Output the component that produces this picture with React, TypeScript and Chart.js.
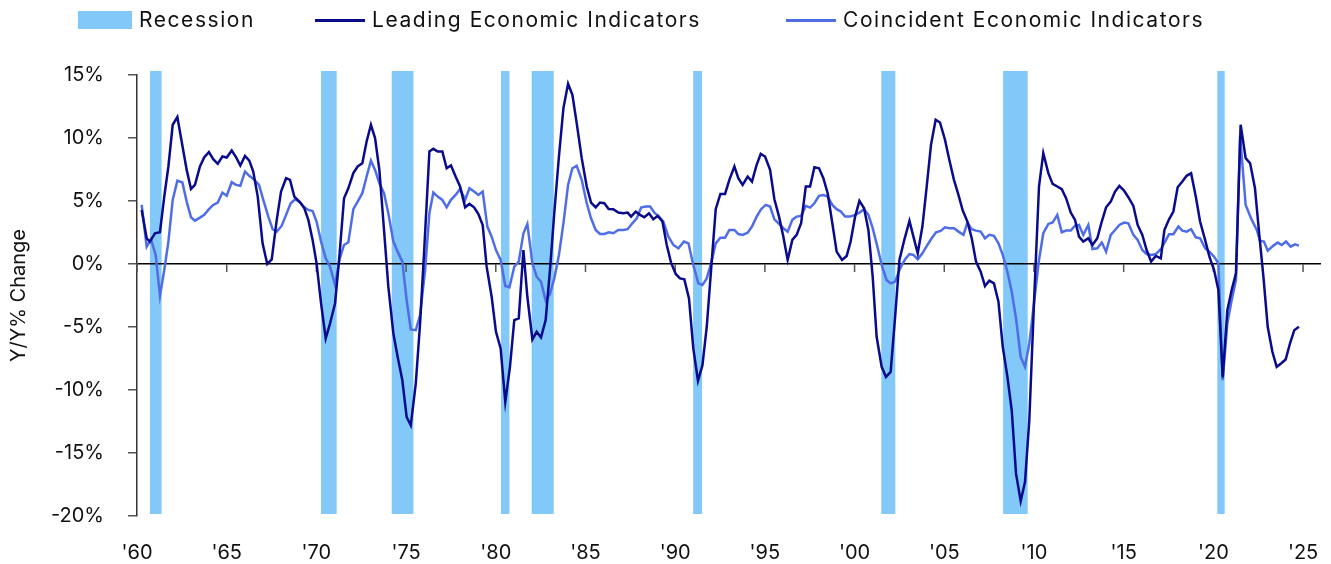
import React, { useEffect, useRef } from 'react';
import { Chart, registerables } from 'chart.js';

Chart.register(...registerables);

const leadingYears = [
  1960.26, 1960.54, 1960.72, 1961.0, 1961.28, 1961.52, 1961.75, 1961.99, 1962.25, 1962.49, 1962.77, 1963.01,
  1963.23, 1963.51, 1963.75, 1964.01, 1964.25, 1964.5, 1964.76, 1965.0, 1965.28, 1965.52, 1965.76, 1966.02,
  1966.26, 1966.48, 1966.73, 1967.0, 1967.26, 1967.51, 1967.79, 1968.03, 1968.31, 1968.53, 1968.77, 1969.09,
  1969.33, 1969.55, 1969.79, 1970.01, 1970.26, 1970.52, 1970.76, 1971.04, 1971.28, 1971.54, 1971.78, 1972.06,
  1972.3, 1972.56, 1972.8, 1973.04, 1973.27, 1973.51, 1973.77, 1974.01, 1974.29, 1974.53, 1974.79, 1975.03,
  1975.26, 1975.54, 1975.78, 1976.02, 1976.3, 1976.52, 1976.76, 1977.02, 1977.26, 1977.5, 1977.76, 1978.01,
  1978.29, 1978.53, 1978.79, 1979.03, 1979.27, 1979.49, 1979.77, 1980.01, 1980.27, 1980.53, 1980.79, 1981.03,
  1981.28, 1981.54, 1981.76, 1982.04, 1982.28, 1982.52, 1982.78, 1983.02, 1983.26, 1983.52, 1983.77, 1984.03,
  1984.27, 1984.51, 1984.79, 1985.07, 1985.31, 1985.57, 1985.81, 1986.05, 1986.29, 1986.55, 1986.83, 1987.11,
  1987.35, 1987.54, 1987.8, 1988.04, 1988.28, 1988.54, 1988.78, 1989.03, 1989.29, 1989.53, 1989.77, 1990.03,
  1990.27, 1990.51, 1990.77, 1991.01, 1991.27, 1991.52, 1991.76, 1992.0, 1992.26, 1992.52, 1992.78, 1993.02,
  1993.3, 1993.52, 1993.76, 1994.04, 1994.28, 1994.54, 1994.77, 1995.01, 1995.29, 1995.53, 1995.79, 1996.03,
  1996.27, 1996.53, 1996.77, 1997.02, 1997.28, 1997.52, 1997.76, 1998.02, 1998.26, 1998.5, 1998.76, 1999.0,
  1999.3, 1999.56, 1999.78, 2000.03, 2000.27, 2000.53, 2000.77, 2001.01, 2001.23, 2001.51, 2001.75, 2002.01,
  2002.26, 2002.5, 2002.78, 2003.06, 2003.28, 2003.52, 2003.78, 2004.02, 2004.26, 2004.52, 2004.76, 2005.04,
  2005.28, 2005.54, 2005.79, 2006.03, 2006.29, 2006.53, 2006.77, 2007.03, 2007.27, 2007.51, 2007.77, 2008.02,
  2008.26, 2008.52, 2008.76, 2009.0, 2009.26, 2009.5, 2009.74, 2010.0, 2010.28, 2010.52, 2010.8, 2011.04,
  2011.3, 2011.55, 2011.79, 2012.05, 2012.29, 2012.51, 2012.75, 2013.03, 2013.26, 2013.53, 2013.78, 2014.02,
  2014.28, 2014.52, 2014.76, 2015.02, 2015.26, 2015.54, 2015.78, 2016.04, 2016.28, 2016.53, 2016.79, 2017.07,
  2017.27, 2017.53, 2017.77, 2018.01, 2018.27, 2018.51, 2018.76, 2019.02, 2019.26, 2019.54, 2019.78, 2020.04,
  2020.28, 2020.52, 2020.78, 2021.02, 2021.26, 2021.52, 2021.8, 2022.05, 2022.32, 2022.57, 2022.79, 2023.03,
  2023.29, 2023.53, 2023.77, 2024.03, 2024.27, 2024.51, 2024.77,
];

const leadingValues = [
  4.29, 2.04, 1.78, 2.44, 2.52, 5.35, 7.74, 11.05, 11.66, 9.72, 7.47, 5.96,
  6.28, 7.74, 8.48, 8.88, 8.32, 7.95, 8.53, 8.45, 9.01, 8.48, 7.82, 8.58,
  8.21, 7.34, 5.35, 1.64, 0.0, 0.37, 3.5, 5.75, 6.81, 6.68, 5.35, 4.9,
  4.42, 3.5, 1.91, 0.05, -3.13, -5.91, -4.72, -3.13, 0.58, 5.22, 6.01, 7.21,
  7.74, 8.0, 9.72, 11.05, 9.99, 7.47, 2.7, -1.8, -5.51, -7.37, -9.22, -12.14,
  -12.8, -9.49, -4.72, 1.38, 8.93, 9.14, 8.93, 8.93, 7.6, 7.82, 6.94, 6.15,
  4.5, 4.77, 4.5, 3.97, 3.1, -0.21, -2.6, -5.38, -6.7, -10.94, -8.16, -4.45,
  -4.32, 1.11, -2.6, -5.99, -5.38, -5.83, -4.45, -0.48, 4.03, 8.53, 12.37, 14.31,
  13.43, 11.18, 8.4, 6.15, 4.88, 4.5, 4.88, 4.82, 4.37, 4.35, 4.08, 4.03,
  4.08, 3.76, 4.16, 3.9, 3.71, 4.03, 3.55, 3.82, 3.37, 1.51, 0.11, -0.79,
  -1.14, -1.22, -2.73, -6.7, -9.27, -8.03, -4.98, -0.48, 4.35, 5.56, 5.56, 6.68,
  7.74, 6.81, 6.28, 6.94, 6.54, 7.87, 8.74, 8.53, 7.47, 5.14, 3.76, 2.17,
  0.32, 1.91, 2.31, 3.23, 6.15, 6.15, 7.68, 7.6, 6.81, 5.62, 3.23, 0.98,
  0.32, 0.64, 1.78, 3.76, 5.01, 4.42, 2.7, -1.01, -5.78, -8.16, -8.96, -8.56,
  -4.19, 0.32, 1.96, 3.42, 2.17, 0.85, 2.97, 6.15, 9.46, 11.45, 11.23, 9.86,
  8.27, 6.68, 5.48, 4.24, 3.37, 2.04, 0.19, -0.61, -1.75, -1.32, -1.54, -2.99,
  -6.57, -8.96, -11.61, -16.64, -18.81, -17.3, -12.4, -3.13, 6.15, 8.8, 7.21, 6.36,
  6.15, 5.94, 5.22, 4.08, 3.5, 2.17, 1.78, 2.04, 1.51, 2.04, 3.37, 4.5,
  4.95, 5.75, 6.2, 5.83, 5.3, 4.61, 3.1, 2.31, 1.11, 0.19, 0.64, 0.45,
  2.7, 3.55, 4.16, 6.09, 6.54, 7.0, 7.21, 5.35, 3.37, 1.91, 0.58, -0.48,
  -2.07, -9.0, -3.66, -2.07, -0.74, 11.05, 8.4, 8.0, 6.01, 2.17, -1.01, -4.98,
  -6.97, -8.16, -7.9, -7.58, -6.31, -5.25, -4.98,
];

const coincidentYears = [
  1960.26, 1960.54, 1960.78, 1961.04, 1961.28, 1961.52, 1961.75, 1961.99, 1962.25, 1962.53, 1962.77, 1963.01,
  1963.23, 1963.51, 1963.75, 1964.01, 1964.25, 1964.5, 1964.76, 1965.0, 1965.28, 1965.52, 1965.76, 1966.02,
  1966.26, 1966.54, 1966.8, 1967.04, 1967.32, 1967.56, 1967.79, 1968.06, 1968.31, 1968.57, 1968.81, 1969.09,
  1969.33, 1969.55, 1969.79, 1970.01, 1970.26, 1970.52, 1970.76, 1971.04, 1971.28, 1971.54, 1971.78, 1972.06,
  1972.3, 1972.56, 1972.8, 1973.04, 1973.27, 1973.51, 1973.77, 1974.01, 1974.29, 1974.53, 1974.79, 1975.03,
  1975.26, 1975.54, 1975.78, 1976.06, 1976.3, 1976.52, 1976.76, 1977.02, 1977.26, 1977.5, 1977.76, 1978.01,
  1978.29, 1978.53, 1978.79, 1979.03, 1979.27, 1979.53, 1979.77, 1980.01, 1980.27, 1980.53, 1980.76, 1981.03,
  1981.28, 1981.54, 1981.76, 1982.04, 1982.28, 1982.52, 1982.78, 1983.02, 1983.26, 1983.52, 1983.77, 1984.03,
  1984.27, 1984.51, 1984.79, 1985.07, 1985.31, 1985.57, 1985.81, 1986.05, 1986.3, 1986.55, 1986.83, 1987.11,
  1987.35, 1987.61, 1987.86, 1988.1, 1988.36, 1988.6, 1988.84, 1989.1, 1989.34, 1989.62, 1989.9, 1990.18,
  1990.49, 1990.74, 1991.01, 1991.29, 1991.52, 1991.76, 1992.0, 1992.26, 1992.52, 1992.78, 1993.02, 1993.3,
  1993.52, 1993.76, 1994.04, 1994.28, 1994.54, 1994.79, 1995.05, 1995.29, 1995.53, 1995.79, 1996.03, 1996.27,
  1996.53, 1996.77, 1997.02, 1997.28, 1997.52, 1997.76, 1998.02, 1998.26, 1998.5, 1998.76, 1999.0, 1999.24,
  1999.47, 1999.75, 2000.03, 2000.27, 2000.53, 2000.77, 2001.01, 2001.27, 2001.51, 2001.78, 2002.01, 2002.26,
  2002.54, 2002.81, 2003.06, 2003.28, 2003.52, 2003.78, 2004.06, 2004.3, 2004.54, 2004.8, 2005.04, 2005.28,
  2005.54, 2005.79, 2006.07, 2006.29, 2006.53, 2006.77, 2007.03, 2007.27, 2007.51, 2007.77, 2008.02, 2008.26,
  2008.52, 2008.76, 2009.0, 2009.26, 2009.5, 2009.74, 2010.0, 2010.28, 2010.52, 2010.8, 2011.04, 2011.3,
  2011.55, 2011.79, 2012.05, 2012.29, 2012.51, 2012.75, 2013.03, 2013.26, 2013.53, 2013.78, 2014.02, 2014.28,
  2014.52, 2014.76, 2015.02, 2015.26, 2015.54, 2015.78, 2016.04, 2016.28, 2016.53, 2016.79, 2017.07, 2017.31,
  2017.53, 2017.77, 2018.05, 2018.27, 2018.51, 2018.76, 2019.02, 2019.26, 2019.54, 2019.78, 2020.04, 2020.28,
  2020.52, 2020.78, 2021.02, 2021.26, 2021.49, 2021.8, 2022.14, 2022.42, 2022.6, 2022.82, 2023.03, 2023.35,
  2023.59, 2023.81, 2024.05, 2024.31, 2024.55, 2024.77,
];

const coincidentValues = [
  4.69, 1.38, 1.96, 0.72, -2.54, -0.48, 1.78, 5.09, 6.62, 6.47, 4.95, 3.71,
  3.44, 3.68, 3.9, 4.35, 4.69, 4.88, 5.67, 5.41, 6.49, 6.28, 6.2, 7.34,
  7.0, 6.68, 6.28, 5.09, 3.76, 2.76, 2.57, 3.02, 3.9, 4.82, 5.14, 4.88,
  4.5, 4.29, 4.21, 3.37, 1.78, 0.45, -0.21, -1.67, 0.32, 1.51, 1.72, 4.35,
  4.95, 5.62, 6.94, 8.21, 7.47, 6.41, 5.62, 4.03, 1.78, 0.98, 0.19, -2.86,
  -5.19, -5.25, -4.05, -0.48, 4.03, 5.67, 5.35, 5.09, 4.5, 5.09, 5.48, 5.96,
  5.09, 6.01, 5.75, 5.48, 5.75, 2.97, 2.17, 1.11, 0.32, -1.75, -1.85, -0.21,
  0.19, 2.44, 3.18, 0.05, -1.01, -1.4, -2.91, -2.38, -1.14, 0.72, 3.23, 6.28,
  7.6, 7.79, 6.68, 4.82, 3.63, 2.7, 2.38, 2.38, 2.52, 2.44, 2.7, 2.7,
  2.76, 3.23, 3.63, 4.48, 4.56, 4.56, 4.08, 3.76, 3.37, 2.17, 1.51, 1.25,
  1.78, 1.64, -0.08, -1.54, -1.67, -1.14, 0.05, 1.64, 2.09, 2.09, 2.7, 2.7,
  2.38, 2.31, 2.49, 2.97, 3.76, 4.35, 4.69, 4.56, 3.55, 3.18, 2.84, 2.57,
  3.5, 3.76, 3.82, 4.61, 4.48, 4.82, 5.41, 5.48, 5.35, 4.69, 4.35, 4.16,
  3.76, 3.76, 3.9, 4.08, 4.35, 3.9, 2.84, 1.38, -0.08, -1.27, -1.54, -1.4,
  -0.34, 0.37, 0.79, 0.72, 0.37, 0.85, 1.51, 2.04, 2.52, 2.62, 2.91, 2.84,
  2.84, 2.57, 2.31, 3.29, 2.76, 2.65, 2.57, 2.04, 2.31, 2.23, 1.64, 0.72,
  -0.61, -2.2, -4.32, -7.37, -8.16, -6.31, -3.13, 0.32, 2.44, 3.18, 3.29, 3.9,
  2.52, 2.65, 2.65, 3.05, 3.1, 2.31, 3.1, 1.19, 1.25, 1.7, 0.98, 2.31,
  2.7, 3.1, 3.29, 3.23, 2.31, 1.91, 1.11, 0.79, 0.72, 0.79, 1.17, 1.78,
  2.36, 2.36, 2.97, 2.65, 2.57, 2.76, 2.12, 2.04, 1.25, 0.98, 0.58, 0.05,
  -9.22, -4.72, -2.86, -1.27, 10.2, 4.69, 3.5, 2.7, 1.85, 1.78, 1.06, 1.46,
  1.7, 1.51, 1.78, 1.38, 1.56, 1.46,
];

const recessionStarts = [1960.72, 1970.26, 1974.2, 1980.29, 1982.0, 1991.0, 2001.49, 2008.28, 2020.22];
const recessionEnds = [1961.37, 1971.13, 1975.41, 1980.76, 1983.23, 1991.5, 2002.27, 2009.65, 2020.63];

const yTickValues = [15, 10, 5, 0, -5, -10, -15, -20];
const xTickYears = [1960, 1965, 1970, 1975, 1980, 1985, 1990, 1995, 2000, 2005, 2010, 2015, 2020, 2025];

const RECESSION_COLOR = '#82C8F8';
const LEADING_COLOR = '#0A0A8C';
const COINCIDENT_COLOR = '#4F6DE6';
const FONT = 'Inter, "Open Sans", sans-serif';
const TEXT_COLOR = '#111111';

export default function App() {
  const canvasRef = useRef<HTMLCanvasElement | null>(null);

  useEffect(() => {
    document.body.style.margin = '0';
    const canvas = canvasRef.current;
    if (!canvas) return;

    const recessionPlugin = {
      id: 'recessionBands',
      beforeDraw(chart: any) {
        const { ctx, chartArea, scales } = chart;
        ctx.save();
        ctx.fillStyle = RECESSION_COLOR;
        recessionStarts.forEach((s, i) => {
          const x1 = scales.x.getPixelForValue(s);
          const x2 = scales.x.getPixelForValue(recessionEnds[i]);
          ctx.fillRect(x1, chartArea.top - 4, x2 - x1, chartArea.bottom - chartArea.top + 2);
        });
        ctx.restore();
      },
    };

    const zeroTicksPlugin = {
      id: 'zeroTicks',
      beforeDatasetsDraw(chart: any) {
        const { ctx, scales } = chart;
        const y0 = scales.y.getPixelForValue(0);
        ctx.save();
        ctx.strokeStyle = '#555555';
        ctx.lineWidth = 1.5;
        xTickYears.forEach((yr) => {
          const x = scales.x.getPixelForValue(yr);
          ctx.beginPath();
          ctx.moveTo(x, y0);
          ctx.lineTo(x, y0 + 8);
          ctx.stroke();
        });
        ctx.restore();
      },
    };

    const chart = new Chart(canvas, {
      type: 'line',
      data: {
        datasets: [
          {
            label: 'Leading Economic Indicators',
            data: leadingYears.map((x, i) => ({ x, y: leadingValues[i] })),
            borderColor: LEADING_COLOR,
            borderWidth: 2.5,
            pointRadius: 0,
            tension: 0,
          },
          {
            label: 'Coincident Economic Indicators',
            data: coincidentYears.map((x, i) => ({ x, y: coincidentValues[i] })),
            borderColor: COINCIDENT_COLOR,
            borderWidth: 2.5,
            pointRadius: 0,
            tension: 0,
          },
        ],
      },
      options: {
        animation: false,
        responsive: false,
        devicePixelRatio: 1,
        layout: { padding: { top: 75, right: 10, left: 0, bottom: 0 } },
        plugins: { legend: { display: false }, tooltip: { enabled: false } },
        scales: {
          x: {
            type: 'linear',
            position: 'bottom',
            min: 1960,
            max: 2026,
            afterFit: (scale: any) => {
              scale.height = 48;
              scale.paddingLeft = 0;
              scale.paddingRight = 0;
            },
            afterBuildTicks: (scale: any) => {
              scale.ticks = xTickYears.map((v) => ({ value: v }));
            },
            ticks: {
              font: { family: FONT, size: 20 },
              color: TEXT_COLOR,
              padding: 17,
              maxRotation: 0,
              autoSkip: false,
              callback: (v: any) => "'" + String(Number(v) % 100).padStart(2, '0'),
            },
            grid: { display: false },
            border: { display: false },
          },
          y: {
            min: -20,
            max: 15,
            afterFit: (scale: any) => {
              scale.width = 137;
            },
            afterBuildTicks: (scale: any) => {
              scale.ticks = yTickValues.map((v) => ({ value: v }));
            },
            ticks: {
              font: { family: FONT, size: 20 },
              color: TEXT_COLOR,
              padding: 24,
              callback: (v: any) => v + '%',
            },
            grid: {
              color: (ctx: any) => (ctx.tick && ctx.tick.value === 0 ? '#000000' : 'rgba(0,0,0,0)'),
              tickColor: '#555555',
              tickLength: 9,
              lineWidth: 1.5,
            },
            border: { display: true, color: '#333333', width: 1.5 },
            title: {
              display: true,
              text: 'Y/Y% Change',
              font: { family: FONT, size: 20 },
              color: TEXT_COLOR,
              padding: { top: 7, bottom: 0 },
            },
          },
        },
      },
      plugins: [recessionPlugin, zeroTicksPlugin],
    } as any);

    return () => chart.destroy();
  }, []);

  const legendText: React.CSSProperties = {
    position: 'absolute',
    top: 8,
    fontFamily: FONT,
    fontSize: 21,
    letterSpacing: '1.55px',
    lineHeight: '24px',
    color: TEXT_COLOR,
    whiteSpace: 'nowrap',
  };

  return (
    <div style={{ position: 'relative', width: 1331, height: 564, background: '#ffffff' }}>
      <canvas ref={canvasRef} width={1331} height={564} style={{ position: 'absolute', left: 0, top: 0 }} />
      <div style={{ position: 'absolute', left: 78, top: 11, width: 54, height: 18, background: RECESSION_COLOR }} />
      <div style={{ ...legendText, left: 139 }}>Recession</div>
      <div style={{ position: 'absolute', left: 315, top: 19, width: 50, height: 3, background: LEADING_COLOR }} />
      <div style={{ ...legendText, left: 372 }}>Leading Economic Indicators</div>
      <div style={{ position: 'absolute', left: 786, top: 19, width: 50, height: 3, background: COINCIDENT_COLOR }} />
      <div style={{ ...legendText, left: 843 }}>Coincident Economic Indicators</div>
    </div>
  );
}
